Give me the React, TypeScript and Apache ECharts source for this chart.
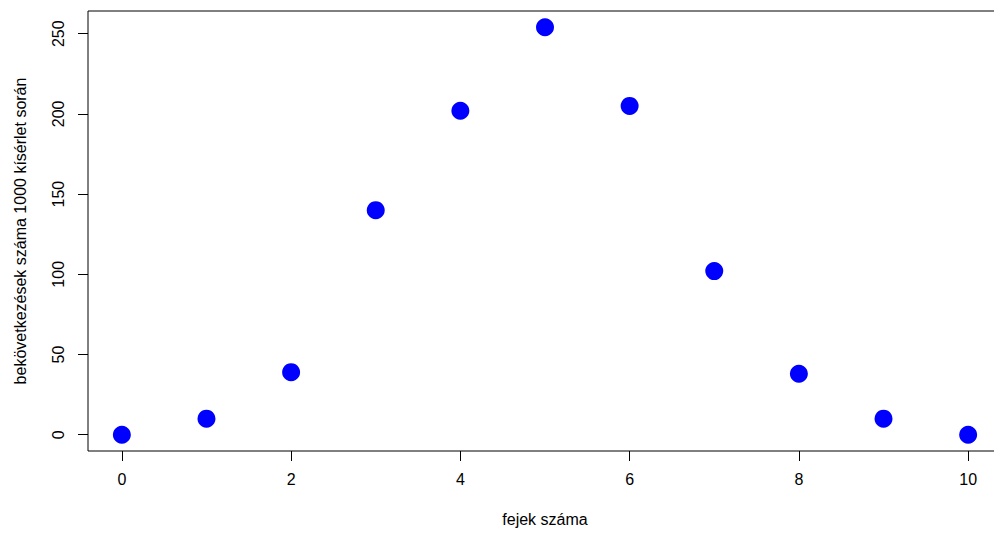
import React, { useEffect, useRef } from "react";
import * as echarts from "echarts";

const heads = [0, 1, 2, 3, 4, 5, 6, 7, 8, 9, 10];
const counts = [0, 10, 39, 140, 202, 254, 205, 102, 38, 10, 0];
const xTicks = [0, 2, 4, 6, 8, 10];
const yTicks = [0, 50, 100, 150, 200, 250];
const xTitle = "fejek száma";
const yTitle = "bekövetkezések száma 1000 kísérlet során";

const FONT = "'Liberation Sans', Arial, Helvetica, sans-serif";

export default function App() {
  const ref = useRef<HTMLDivElement>(null);
  useEffect(() => {
    if (!ref.current) return;
    const chart = echarts.init(ref.current, null, { renderer: "svg" });
    chart.setOption({
      animation: false,
      backgroundColor: "#ffffff",
      textStyle: { fontFamily: FONT },
      grid: {
        left: 88,
        top: 11,
        right: 0,
        bottom: 82,
        show: true,
        borderColor: "#000",
        borderWidth: 1,
        backgroundColor: "transparent",
      },
      xAxis: {
        type: "value",
        min: -0.4,
        max: 10.4,
        splitLine: { show: false },
        axisLine: { show: false, onZero: false },
        axisTick: {
          show: true,
          length: 10,
          inside: false,
          lineStyle: { color: "#000" },
          customValues: xTicks,
        },
        axisLabel: {
          customValues: xTicks,
          color: "#000",
          fontSize: 16,
          fontFamily: FONT,
          margin: 20,
        },
        name: xTitle,
        nameLocation: "middle",
        nameGap: 60,
        nameTextStyle: { color: "#000", fontSize: 16, fontFamily: FONT },
      },
      yAxis: {
        type: "value",
        min: -10.16,
        max: 264.16,
        splitLine: { show: false },
        axisLine: { show: false, onZero: false },
        axisTick: {
          show: true,
          length: 10,
          inside: false,
          lineStyle: { color: "#000" },
          customValues: yTicks,
        },
        axisLabel: {
          customValues: yTicks,
          rotate: 90,
          color: "#000",
          fontSize: 16,
          fontFamily: FONT,
          margin: 22,
          align: "center",
          verticalAlign: "bottom",
        },
        name: yTitle,
        nameLocation: "middle",
        nameGap: 60,
        nameTextStyle: { color: "#000", fontSize: 16, fontFamily: FONT },
      },
      series: [
        {
          type: "scatter",
          data: heads.map((h, i) => [h, counts[i]]),
          symbol: "circle",
          symbolSize: 18,
          itemStyle: { color: "#0000ff", opacity: 1 },
          clip: false,
        },
      ],
    });
    return () => chart.dispose();
  }, []);
  return (
    <div
      style={{
        position: "absolute",
        left: 0,
        top: 0,
        width: 994,
        height: 533,
        overflow: "hidden",
        background: "#fff",
      }}
    >
      <div ref={ref} style={{ width: 1002, height: 533 }} />
    </div>
  );
}
